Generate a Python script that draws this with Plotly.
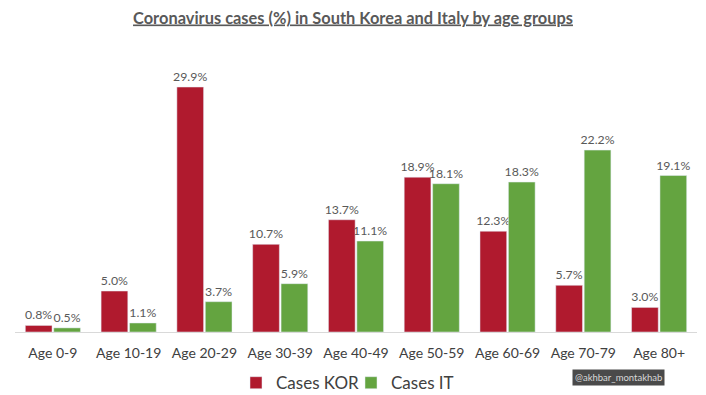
import plotly.graph_objects as go

categories = ["Age 0-9", "Age 10-19", "Age 20-29", "Age 30-39", "Age 40-49",
              "Age 50-59", "Age 60-69", "Age 70-79", "Age 80+"]
cases_kor = [0.8, 5.0, 29.9, 10.7, 13.7, 18.9, 12.3, 5.7, 3.0]
cases_it = [0.5, 1.1, 3.7, 5.9, 11.1, 18.1, 18.3, 22.2, 19.1]

FONT = "Lato"
fig = go.Figure()
fig.add_trace(go.Bar(
    x=categories, y=cases_kor, name="Cases KOR", marker_color="#B01A2E",
    text=[f"{v:.1f}%" for v in cases_kor], textposition="outside",
    constraintext="none",
    textfont=dict(size=12.3, color="#595959", family=FONT), cliponaxis=False,
    legend="legend",
))
fig.add_trace(go.Bar(
    x=categories, y=cases_it, name="Cases IT", marker_color="#64A440",
    text=[f"{v:.1f}%" for v in cases_it], textposition="outside",
    constraintext="none",
    textfont=dict(size=12.3, color="#595959", family=FONT), cliponaxis=False,
    legend="legend2",
))

legend_style = dict(orientation="h", xref="container", xanchor="left",
                    yref="container", y=0.03, yanchor="middle",
                    font=dict(size=17, color="#404040", family=FONT),
                    itemwidth=30, bgcolor="rgba(0,0,0,0)")

fig.update_layout(
    width=706, height=395,
    margin=dict(l=15, r=9, t=60, b=63, autoexpand=False),
    paper_bgcolor="white", plot_bgcolor="white",
    barmode="group", bargap=0.25, bargroupgap=0.06,
    font=dict(family=FONT, color="#404040"),
    title=dict(text="<b><u>Coronavirus cases (%) in South Korea and Italy by age groups</u></b>",
               x=0.5, xanchor="center", y=0.955, yanchor="middle",
               font=dict(size=16.4, color="#595959", family=FONT)),
    xaxis=dict(showgrid=False, showline=True, linecolor="#D9D9D9", linewidth=1,
               ticks="", ticklabelstandoff=8,
               tickfont=dict(size=14, color="#404040", family=FONT)),
    yaxis=dict(range=[0, 33.2], visible=False),
    legend=dict(x=236 / 706, **legend_style),
    legend2=dict(x=351 / 706, **legend_style),
    showlegend=True,
)
fig.add_annotation(
    text="@akhbar_montakhab", xref="paper", yref="paper", x=0.8856, y=-0.169,
    xanchor="center", yanchor="middle", showarrow=False,
    font=dict(size=9.5, color="#D8D8D8", family=FONT), bgcolor="#4A4A4A", borderpad=2,
)
fig.write_html("out.html", config={"displayModeBar": False},
               post_script="document.body.style.margin='0';document.body.style.overflow='hidden';")
